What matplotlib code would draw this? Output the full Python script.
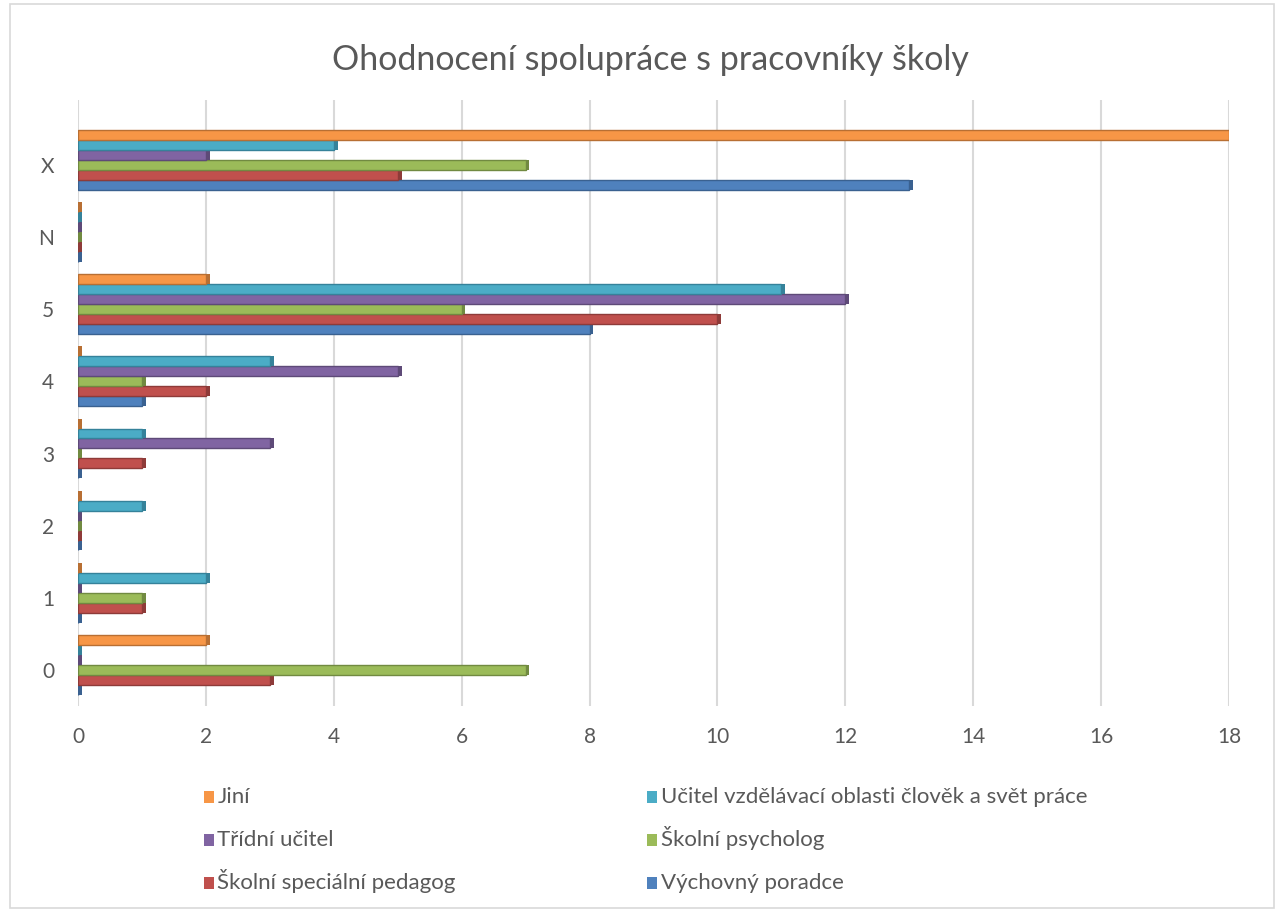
import matplotlib

matplotlib.use('Agg')
import matplotlib.pyplot as plt
from matplotlib.patches import Rectangle
import numpy as np

# --- DATA ---
categories = ['0', '1', '2', '3', '4', '5', 'N', 'X']
# series listed bottom -> top inside each group
series_names = ['Výchovný poradce', 'Školní speciální pedagog', 'Školní psycholog',
                'Třídní učitel', 'Učitel vzdělávací oblasti člověk a svět práce', 'Jiní']
vychovny_poradce = [0, 0, 0, 0, 1, 8, 0, 13]
specialni_pedagog = [3, 1, 0, 1, 2, 10, 0, 5]
skolni_psycholog = [7, 1, 0, 0, 1, 6, 0, 7]
tridni_ucitel = [0, 0, 0, 3, 5, 12, 0, 2]
ucitel_csp = [0, 2, 1, 1, 3, 11, 0, 4]
jini = [2, 0, 0, 0, 0, 2, 0, 18]
x_ticks = [0, 2, 4, 6, 8, 10, 12, 14, 16, 18]

series_values = [vychovny_poradce, specialni_pedagog, skolni_psycholog,
                 tridni_ucitel, ucitel_csp, jini]
colors = ['#4F81BD', '#C0504D', '#9BBB59', '#8064A2', '#4BACC6', '#F79646']
edges = ['#3A6190', '#8E3B39', '#718A41', '#5E4A78', '#35829A', '#B86F33']

TEXT = '#595959'
plt.rcParams['font.family'] = ['Lato', 'DejaVu Sans']

fig = plt.figure(figsize=(12.82, 9.13), dpi=100)
fig.patches.append(Rectangle((0.008, 0.006), 0.986, 0.99, transform=fig.transFigure,
                             fill=False, edgecolor='#D9D9D9', linewidth=1.2))
ax = fig.add_axes([0.0608, 0.2267, 0.8979, 0.6638])

y = np.arange(len(categories))
bar_h = 0.138
offsets = (np.arange(6) - 2.5) * bar_h + 0.07
for vals, off, c, ec in zip(series_values, offsets, colors, edges):
    ax.barh(y + off, vals, height=bar_h, color=c, edgecolor=ec, linewidth=1.0, zorder=3)
    # right end cap for the flat "3D" look, also keeps zero bars visible
    ax.barh(y + off, [0.06] * len(vals), left=vals, height=bar_h, color=ec,
            linewidth=0, zorder=3)

ax.set_xlim(0, 18)
ax.set_ylim(-0.5, 7.9)
ax.set_xticks(x_ticks)
ax.set_yticks(y)
ax.set_yticklabels(categories)
ax.tick_params(axis='both', length=0, labelsize=15, labelcolor=TEXT)
ax.tick_params(axis='x', pad=15)
ax.tick_params(axis='y', pad=17)
ax.grid(axis='x', color='#D9D9D9', linewidth=1.5, zorder=0)
for s in ax.spines.values():
    s.set_visible(False)

fig.text(0.507, 0.934, 'Ohodnocení spolupráce s pracovníky školy', ha='center',
         va='center', fontsize=24.5, color=TEXT)

# legend, placed by hand so the rows line up like the original
legend_order = [5, 4, 3, 2, 1, 0]  # row-wise, two columns
col_x = [0.159, 0.505]
row_y = [1 - 797 / 913, 1 - 840 / 913, 1 - 883 / 913]
for k, idx in enumerate(legend_order):
    lx, ly = col_x[k % 2], row_y[k // 2]
    fig.patches.append(Rectangle((lx, ly - 0.0065), 0.0078, 0.013, transform=fig.transFigure,
                                 facecolor=colors[idx], edgecolor='none'))
    fig.text(lx + 0.0105, ly - 0.0065, series_names[idx], ha='left', va='baseline',
             fontsize=16, color=TEXT)

fig.savefig('out.png', dpi=100)
